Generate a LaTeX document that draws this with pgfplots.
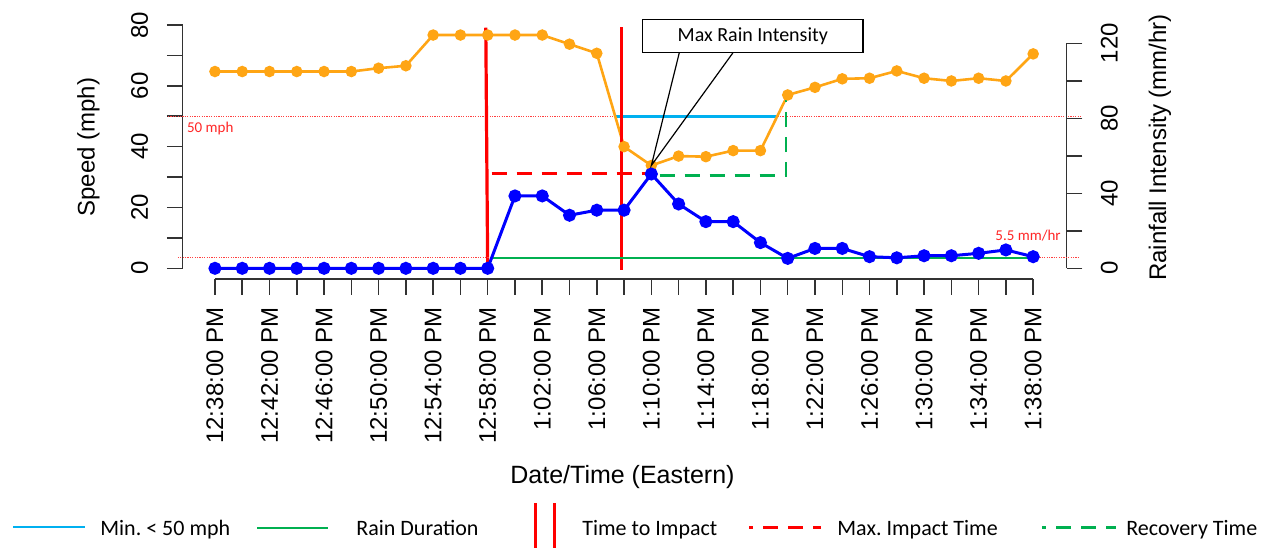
\documentclass[border=0pt]{standalone}
\usepackage{fontspec}
\setmainfont{Liberation Sans}
\newfontfamily\calibri{Carlito}
\usepackage{pgfplots}
\pgfplotsset{compat=1.18}
\frenchspacing

\definecolor{spd}{RGB}{255,165,20}
\definecolor{rain}{RGB}{0,0,255}
\definecolor{minblue}{RGB}{0,176,240}
\definecolor{raingreen}{RGB}{0,176,80}
\definecolor{axgray}{RGB}{50,50,50}

\pgfplotsset{
  common/.style={
    scale only axis, width=442.1pt, height=127pt,
    at={(91.25pt,-139.5pt)}, anchor=south west,
    xmin=-1.19, xmax=31.23,
    clip=false,
    axis line style={draw=none},
    tick align=outside, major tick length=7.8pt,
    tick style={line width=0.75pt, color=axgray},
    tick label style={font=\fontsize{12}{12}\selectfont, inner sep=0pt},
  },
}

\begin{document}
\begin{tikzpicture}

% speed (left axis)
\begin{axis}[common,
  ymin=-3.52, ymax=80,
  axis x line*=bottom, axis y line*=left,
  xtick={0,...,30},
  xticklabels={12:38:00 PM,,12:42:00 PM,,12:46:00 PM,,12:50:00 PM,,12:54:00 PM,,12:58:00 PM,,1:02:00 PM,,1:06:00 PM,,1:10:00 PM,,1:14:00 PM,,1:18:00 PM,,1:22:00 PM,,1:26:00 PM,,1:30:00 PM,,1:34:00 PM,,1:38:00 PM},
  xticklabel style={rotate=90, anchor=east},
  xticklabel shift=6.3pt,
  ytick={0,10,...,80},
  yticklabels={0,,20,,40,,60,,80},
  yticklabel style={rotate=90, anchor=south},
  yticklabel shift=9.2pt,
]
% axis lines spanning the tick range
\addplot[axgray, line width=0.75pt] coordinates {(-1.19,0) (-1.19,80)};
\addplot[axgray, line width=0.75pt] coordinates {(0,-3.52) (30,-3.52)};
% 50 mph threshold
\addplot[red!75, line width=0.5pt, dash pattern=on 0.6pt off 0.6pt] coordinates {(-1.72,50) (31.72,50)};
% minutes below 50 mph
\addplot[minblue, line width=1.3pt] coordinates {(14.67,50) (20.6,50)};
% speed
\addplot[spd, line width=1.3pt, mark=*, mark size=2.2pt, mark options={fill=spd, draw=spd}] coordinates {
(0,64.7) (1,64.7) (2,64.7) (3,64.7) (4,64.7) (5,64.7) (6,65.8) (7,66.6)
(8,76.7) (9,76.7) (10,76.7) (11,76.7) (12,76.7) (13,73.7) (14,70.7) (15,40.0)
(16,33.8) (17,36.9) (18,36.7) (19,38.7) (20,38.7) (21,57.0) (22,59.5) (23,62.3)
(24,62.5) (25,64.9) (26,62.5) (27,61.6) (28,62.5) (29,61.6) (30,70.5)};
% time to impact
\addplot[red, line width=1.6pt] coordinates {(9.93,79.1) (10,-0.6)};
\addplot[red, line width=1.6pt] coordinates {(14.92,79.3) (14.92,-0.6)};
% recovery time
\addplot[raingreen, line width=1.4pt, dash pattern=on 7.5pt off 5pt] coordinates {(16.3,30.5) (20.94,30.5) (20.94,55.5)};
\coordinate (tip) at (axis cs:16,33.8);
\end{axis}

% rainfall intensity (right axis)
\begin{axis}[common,
  ymin=-5.7, ymax=129.76,
  axis x line=none, axis y line*=right,
  ytick={0,20,...,120},
  yticklabels={0,,40,,80,,120},
  yticklabel style={rotate=90, anchor=north},
  yticklabel shift=9.1pt,
]
\addplot[axgray, line width=0.75pt] coordinates {(31.23,0) (31.23,120)};
% 5.5 mm/hr threshold
\addplot[red!75, line width=0.5pt, dash pattern=on 0.6pt off 0.6pt] coordinates {(-1.36,5.5) (31.72,5.5)};
% rain duration
\addplot[raingreen, line width=1.3pt] coordinates {(10.14,5.5) (30,5.5)};
% max impact time
\addplot[red, line width=1.5pt, dash pattern=on 7.5pt off 5pt] coordinates {(10.14,50.3) (16,50.3)};
% rainfall
\addplot[rain, line width=1.5pt, mark=*, mark size=2.5pt, mark options={fill=rain, draw=rain}] coordinates {
(0,0) (1,0) (2,0) (3,0) (4,0) (5,0) (6,0) (7,0) (8,0) (9,0) (10,0)
(11,38.6) (12,38.6) (13,28.3) (14,31.0) (15,31.0) (16,50.3) (17,34.3) (18,24.9)
(19,24.9) (20,13.7) (21,5.3) (22,10.6) (23,10.6) (24,6.2) (25,5.6) (26,6.7)
(27,6.7) (28,8.0) (29,9.8) (30,6.2)};
\end{axis}

% labels, callout and key (one unit = one pixel of a 1272 x 550 canvas)
\begin{scope}[x=0.5pt, y=-0.5pt]
\node[rotate=90, font=\fontsize{12}{12}\selectfont] at (88.3,147) {Speed (mph)};
\node[rotate=90, font=\fontsize{12}{12}\selectfont] at (1160,147.5) {Rainfall Intensity (mm/hr)};
\node[font=\fontsize{12.5}{12.5}\selectfont] at (622.5,476.7) {Date/Time (Eastern)};

\node[anchor=base west, inner sep=0pt, text=red!85, font=\calibri\fontsize{7.5}{7.5}\selectfont] at (186.7,132.3) {50 mph};
\node[anchor=base west, inner sep=0pt, text=red!85, font=\calibri\fontsize{7.5}{7.5}\selectfont] at (995,240.7) {5.5 mm/hr};

\draw[black, line width=0.6pt] (679.3,52.7) -- (tip) -- (733,52.7);
\draw[black, line width=0.75pt, fill=white] (642.7,19.3) rectangle (863,52.7);
\node[font=\calibri\fontsize{10}{10}\selectfont] at (752.8,36) {Max Rain Intensity};

\draw[minblue, line width=1.3pt] (13,527) -- (85,527);
\node[anchor=base west, inner sep=0pt, font=\calibri\fontsize{11}{11}\selectfont] at (100,535.7) {Min. < 50 mph};
\draw[raingreen, line width=1.3pt] (257,528) -- (328,528);
\node[anchor=base west, inner sep=0pt, font=\calibri\fontsize{11}{11}\selectfont] at (356,535.7) {Rain Duration};
\draw[red, line width=1.5pt] (535.7,503) -- (535.7,548);
\draw[red, line width=1.5pt] (554.7,503) -- (554.7,548);
\node[anchor=base west, inner sep=0pt, font=\calibri\fontsize{11}{11}\selectfont] at (582,535.7) {Time to Impact};
\draw[red, line width=1.5pt, dash pattern=on 2pt off 5pt on 7.5pt off 5pt on 7.5pt off 5pt on 7.5pt off 5pt] (749,527) -- (821,527);
\node[anchor=base west, inner sep=0pt, font=\calibri\fontsize{11}{11}\selectfont] at (837,535.7) {Max. Impact Time};
\draw[raingreen, line width=1.5pt, dash pattern=on 2pt off 5pt on 7.5pt off 5pt on 7.5pt off 5pt on 7.5pt off 5pt] (1042,527) -- (1116,527);
\node[anchor=base west, inner sep=0pt, font=\calibri\fontsize{11}{11}\selectfont] at (1126,535.7) {Recovery Time};
\end{scope}

\pgfresetboundingbox
\useasboundingbox (0,0) rectangle (636pt,-275pt);
\end{tikzpicture}
\end{document}
